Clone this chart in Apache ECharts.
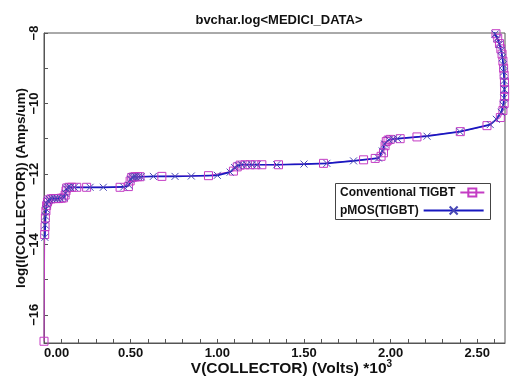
<!DOCTYPE html>
<html>
<head>
<meta charset="utf-8">
<title>bvchar.log</title>
<script src="https://cdn.jsdelivr.net/npm/echarts@6/dist/echarts.min.js"></script>
<style>
  html, body { margin: 0; padding: 0; background: #fff; }
  #chart { width: 510px; height: 380px; }
</style>
</head>
<body>
<div id="chart"></div>
<script>
// V(COLLECTOR) in kV, log10 of collector current in A/um
const conventional = [
  [0, -16.75], [0.004, -13.72], [0.006, -13.5], [0.008, -13.25], [0.011, -13.05],
  [0.015, -12.9], [0.02, -12.8], [0.025, -12.74], [0.04, -12.71], [0.054, -12.70],
  [0.07, -12.70], [0.083, -12.70], [0.1, -12.69], [0.112, -12.68], [0.122, -12.6],
  [0.127, -12.48], [0.131, -12.40], [0.145, -12.38], [0.16, -12.38], [0.189, -12.38],
  [0.246, -12.38], [0.439, -12.38], [0.487, -12.36], [0.497, -12.2], [0.506, -12.1],
  [0.515, -12.09], [0.525, -12.08], [0.54, -12.08], [0.554, -12.08], [0.68, -12.07],
  [0.949, -12.05], [1.093, -11.92], [1.115, -11.8], [1.132, -11.75], [1.16, -11.74],
  [1.189, -11.74], [1.22, -11.74], [1.257, -11.74], [1.353, -11.74], [1.613, -11.70],
  [1.844, -11.60], [1.911, -11.56], [1.945, -11.50], [1.959, -11.40], [1.968, -11.2],
  [1.975, -11.08], [1.985, -11.04], [1.998, -11.02], [2.055, -11.0], [2.152, -10.95],
  [2.402, -10.80], [2.556, -10.63], [2.633, -10.40], [2.648, -10.2], [2.655, -10.0],
  [2.658, -9.8], [2.658, -9.6], [2.657, -9.4], [2.655, -9.2], [2.652, -9.0],
  [2.648, -8.8], [2.643, -8.6], [2.636, -8.45], [2.628, -8.3], [2.618, -8.15],
  [2.608, -8.02], [2.602, -7.95]
];
const pmos = [
  [0.005, -13.8], [0.007, -13.45], [0.009, -13.2], [0.012, -13.0],
  [0.017, -12.85], [0.022, -12.76], [0.03, -12.72], [0.045, -12.70], [0.062, -12.70],
  [0.077, -12.70], [0.095, -12.69], [0.115, -12.67], [0.124, -12.55], [0.129, -12.42],
  [0.138, -12.38], [0.152, -12.38], [0.175, -12.38], [0.266, -12.38], [0.342, -12.38],
  [0.46, -12.37], [0.49, -12.32], [0.50, -12.15], [0.51, -12.09], [0.52, -12.08],
  [0.53, -12.08], [0.545, -12.08], [0.56, -12.08], [0.631, -12.07], [0.756, -12.07],
  [0.85, -12.06], [1.0, -12.04], [1.074, -11.95], [1.10, -11.82], [1.12, -11.76],
  [1.14, -11.74], [1.17, -11.74], [1.2, -11.74], [1.23, -11.74], [1.343, -11.74],
  [1.5, -11.72], [1.632, -11.70], [1.786, -11.63], [1.93, -11.55], [1.952, -11.35],
  [1.965, -11.15], [1.99, -11.03], [2.015, -11.01], [2.04, -11.0], [2.21, -10.93],
  [2.4, -10.80], [2.575, -10.60], [2.61, -10.45], [2.638, -10.25], [2.65, -10.05],
  [2.654, -9.85], [2.656, -9.6], [2.655, -9.35], [2.653, -9.1], [2.65, -8.9],
  [2.645, -8.7], [2.638, -8.5], [2.628, -8.32], [2.615, -8.15], [2.603, -8.03],
  [2.594, -7.95]
];
const xLabelValues = [0, 0.5, 1, 1.5, 2, 2.5];
const xTickValues = [0, 0.1, 0.2, 0.3, 0.4, 0.5, 0.6, 0.7, 0.8, 0.9, 1, 1.1, 1.2, 1.3,
  1.4, 1.5, 1.6, 1.7, 1.8, 1.9, 2, 2.1, 2.2, 2.3, 2.4, 2.5, 2.6];
const yLabelValues = [-16, -14, -12, -10, -8];
const yTickValues = [-16, -15, -14, -13, -12, -11, -10, -9, -8];

const font = 'Liberation Sans, Arial, sans-serif';
const axisColor = '#555';
const magenta = '#c43cc4';
const blue = '#1818c0';

const chart = echarts.init(document.getElementById('chart'));
chart.setOption({
  animation: false,
  textStyle: { fontFamily: font },
  title: {
    text: 'bvchar.log<MEDICI_DATA>',
    left: 274, top: 9, textAlign: 'center',
    textStyle: { fontSize: 13, fontWeight: 'bold', color: '#111', fontFamily: font }
  },
  grid: {
    left: 44, right: 5, top: 33, bottom: 37,
    show: true, borderColor: axisColor, borderWidth: 1,
    outerBoundsMode: 'none'
  },
  legend: [
    {
      data: ['Conventional TIGBT'], left: 340, top: 186, align: 'right',
      itemWidth: 24, itemHeight: 10, padding: 0,
      textStyle: { fontSize: 12, fontWeight: 'bold', color: '#111', fontFamily: font }
    },
    {
      data: ['pMOS(TIGBT)'], left: 340, top: 204, align: 'right',
      itemWidth: 60, itemHeight: 10, padding: 0,
      textStyle: { fontSize: 12, fontWeight: 'bold', color: '#111', fontFamily: font }
    }
  ],
  graphic: [{
    type: 'rect', z: 3,
    shape: { x: 335.5, y: 183.5, width: 155, height: 36 },
    style: { fill: '#fff', stroke: '#444', lineWidth: 1 }
  }],
  xAxis: {
    type: 'value', min: 0, max: 2.66,
    name: 'V(COLLECTOR) (Volts) *10{sup|3}',
    nameLocation: 'middle', nameGap: 16, nameMoveOverlap: false,
    nameTextStyle: {
      fontSize: 15.5, fontWeight: 'bold', color: '#111', fontFamily: font,
      padding: [0, 0, 0, 34],
      rich: { sup: { fontSize: 10, fontWeight: 'bold', color: '#111', padding: [0, 0, 9, 0] } }
    },
    axisLine: { show: true, lineStyle: { color: axisColor } },
    axisTick: { inside: true, length: 4, customValues: xTickValues, lineStyle: { color: axisColor } },
    axisLabel: {
      customValues: xLabelValues, formatter: v => v.toFixed(2),
      fontSize: 13, fontWeight: 'bold', color: '#111', margin: 4, alignMinLabel: 'left'
    },
    splitLine: { show: false }
  },
  yAxis: {
    type: 'value', min: -16.8, max: -8,
    name: 'log(I(COLLECTOR)) (Amps/um)',
    nameLocation: 'middle', nameGap: 16, nameMoveOverlap: false,
    nameTextStyle: { fontSize: 13.5, fontWeight: 'bold', color: '#111', fontFamily: font },
    axisLine: { show: true, lineStyle: { color: axisColor } },
    axisTick: { inside: true, length: 4, customValues: yTickValues, lineStyle: { color: axisColor } },
    axisLabel: {
      customValues: yLabelValues, rotate: 90, margin: 3,
      formatter: v => String(v).replace('-', '\u2212'),
      fontSize: 13, fontWeight: 'bold', color: '#111'
    },
    splitLine: { show: false }
  },
  series: [
    {
      name: 'Conventional TIGBT', type: 'line', data: conventional,
      symbol: 'rect', symbolSize: 8, showAllSymbol: true, z: 2,
      itemStyle: { color: 'none', borderColor: magenta, borderWidth: 1 },
      lineStyle: { color: magenta, width: 1 },
      emphasis: { disabled: true }
    },
    {
      name: 'pMOS(TIGBT)', type: 'line', data: pmos,
      symbol: 'path://M0,0L10,10M10,0L0,10', symbolSize: 7, showAllSymbol: true, z: 2,
      itemStyle: { color: 'none', borderColor: '#4646b4', borderWidth: 1 },
      lineStyle: { color: blue, width: 1.7 },
      emphasis: { disabled: true }
    }
  ]
});
</script>
</body>
</html>
